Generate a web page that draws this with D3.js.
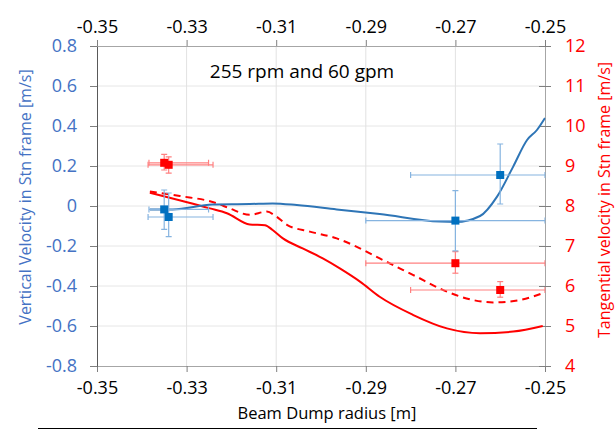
<!DOCTYPE html>
<html>
<head>
<meta charset="utf-8">
<script src="https://cdn.jsdelivr.net/npm/d3@7"></script>
<style>
  body { margin: 0; background: #fff; }
  text { font-family: "Open Sans", "Noto Sans", sans-serif; }
</style>
</head>
<body>
<div id="chart"></div>
<script>
// simulation curves
var simRadius = [-0.3382, -0.3331, -0.3242, -0.3159, -0.3108, -0.3054, -0.2965, -0.2869, -0.2735, -0.2699, -0.2645, -0.2607, -0.2571, -0.2540, -0.2518, -0.2500];
var simVertical = [-0.017, -0.017, 0.008, 0.010, 0.013, 0.005, -0.017, -0.040, -0.078, -0.080, -0.050, 0.047, 0.197, 0.330, 0.380, 0.440];

var solidRadius = [-0.3382, -0.3248, -0.3210, -0.3159, -0.3125, -0.3108, -0.3085, -0.3041, -0.2996, -0.2958, -0.2913, -0.2869, -0.2795, -0.2719, -0.2645, -0.2571, -0.2505];
var solidTangential = [8.33, 7.94, 7.82, 7.54, 7.52, 7.40, 7.19, 6.94, 6.69, 6.44, 6.11, 5.73, 5.28, 4.94, 4.82, 4.86, 5.00];

var dashRadius = [-0.3382, -0.3315, -0.3233, -0.3204, -0.3159, -0.3121, -0.3099, -0.3076, -0.3025, -0.2965, -0.2920, -0.2869, -0.2795, -0.2719, -0.2661, -0.2616, -0.2556, -0.2505];
var dashTangential = [8.36, 8.25, 8.07, 7.94, 7.78, 7.86, 7.73, 7.53, 7.36, 7.19, 6.98, 6.69, 6.28, 5.86, 5.65, 5.59, 5.65, 5.82];

// measurements
var expRadius = [-0.335, -0.334, -0.270, -0.260];
var expRadiusLo = [-0.3384, -0.3386, -0.290, -0.280];
var expRadiusHi = [-0.3251, -0.3241, -0.250, -0.250];
var expVertical = [-0.017, -0.055, -0.073, 0.155];
var expVerticalLo = [-0.117, -0.153, -0.224, 0.010];
var expVerticalHi = [0.080, 0.065, 0.077, 0.310];
var expTangential = [9.08, 9.03, 6.57, 5.90];
var expTangentialLo = [8.90, 8.82, 6.32, 5.72];
var expTangentialHi = [9.29, 9.23, 6.86, 6.11];

var xTicks = [-0.35, -0.33, -0.31, -0.29, -0.27, -0.25];
var leftTicks = [-0.8, -0.6, -0.4, -0.2, 0, 0.2, 0.4, 0.6, 0.8];
var rightTicks = [4, 5, 6, 7, 8, 9, 10, 11, 12];

var chartTitle = "255 rpm and 60 gpm";
var xTitle = "Beam Dump radius [m]";
var leftTitle = "Vertical Velocity in Stn frame [m/s]";
var rightTitle = "Tangential velocity in Stn frame [m/s]";

var margin = {top: 46, right: 70, bottom: 66, left: 97},
    width = 615 - margin.left - margin.right,
    height = 432 - margin.top - margin.bottom;

var svgRoot = d3.select("#chart").append("svg")
    .attr("width", 615)
    .attr("height", 432);

var svg = svgRoot.append("g")
    .attr("transform", "translate(" + margin.left + "," + margin.top + ")");

var x = d3.scaleLinear().domain([-0.35, -0.25]).range([0, width]);
var yL = d3.scaleLinear().domain([-0.8, 0.8]).range([height, 0]);
var yR = d3.scaleLinear().domain([4, 12]).range([height, 0]);

var blue = "#2E75B6", blueMark = "#0070C0", blueErr = "#86B4E0";
var red = "#FF0000", redErr = "#FF8080";

svg.append("defs").append("clipPath").attr("id", "plotclip")
    .append("rect").attr("x", 0).attr("y", 0).attr("width", width + 0.5).attr("height", height);

// gridlines
svg.selectAll(".hgrid").data(leftTicks.slice(1, -1)).enter().append("line")
    .attr("x1", 0).attr("x2", width)
    .attr("y1", d => yL(d)).attr("y2", d => yL(d))
    .attr("stroke", "#E6E6E6");
svg.selectAll(".vgrid").data(xTicks.slice(1, -1)).enter().append("line")
    .attr("x1", d => x(d)).attr("x2", d => x(d))
    .attr("y1", 0).attr("y2", height)
    .attr("stroke", "#E2E2E2");

function fmt(n) { return function(d) { return d === 0 ? "0" : d.toFixed(n); }; }

// axes
var gBottom = svg.append("g").attr("transform", "translate(0," + height + ")")
    .call(d3.axisBottom(x).tickValues(xTicks).tickFormat(fmt(2)).tickSize(6).tickSizeOuter(0));
var gTop = svg.append("g")
    .call(d3.axisTop(x).tickValues(xTicks).tickFormat(fmt(2)).tickSize(6).tickSizeOuter(0));
var gLeft = svg.append("g")
    .call(d3.axisLeft(yL).tickValues(leftTicks).tickFormat(fmt(1)).tickSize(7).tickSizeOuter(0).tickPadding(13));
var gRight = svg.append("g").attr("transform", "translate(" + width + ",0)")
    .call(d3.axisRight(yR).tickValues(rightTicks).tickSize(6).tickSizeOuter(0).tickPadding(14));

[gBottom, gTop].forEach(function(g) {
    g.select(".domain").attr("stroke", "#A6A6A6");
    g.selectAll(".tick line").attr("stroke", "#7F7F7F");
    g.selectAll("text").attr("fill", "#000").style("font-size", "18px");
});
gBottom.selectAll("text").attr("dy", "1.05em");
gTop.selectAll("text").attr("dy", "-0.25em");
gLeft.select(".domain").attr("stroke", "#595959");
gLeft.selectAll(".tick line").attr("stroke", "#7F7F7F");
gLeft.selectAll("text").attr("fill", "#4472C4").style("font-size", "18px");
gRight.select(".domain").attr("stroke", "#A6A6A6");
gRight.selectAll(".tick line").attr("stroke", "#7F7F7F").attr("x1", -6);
gRight.selectAll("text").attr("fill", red).style("font-size", "18px");

var plot = svg.append("g").attr("clip-path", "url(#plotclip)");

// simulation lines
var lineL = d3.line().x(d => x(d[0])).y(d => yL(d[1])).curve(d3.curveMonotoneX);
var lineR = d3.line().x(d => x(d[0])).y(d => yR(d[1])).curve(d3.curveMonotoneX);

plot.append("path").datum(d3.zip(solidRadius, solidTangential))
    .attr("d", lineR).attr("fill", "none").attr("stroke", red).attr("stroke-width", 2);
plot.append("path").datum(d3.zip(dashRadius, dashTangential))
    .attr("d", lineR).attr("fill", "none").attr("stroke", red).attr("stroke-width", 2)
    .attr("stroke-dasharray", "7,5");
plot.append("path").datum(d3.zip(simRadius, simVertical))
    .attr("d", lineL).attr("fill", "none").attr("stroke", blue).attr("stroke-width", 2);

// error bars + markers
function drawPoints(vals, lo, hi, y, errColor, markColor) {
    var pts = expRadius.map(function(r, i) {
        return {x: r, xlo: expRadiusLo[i], xhi: expRadiusHi[i], y: vals[i], ylo: lo[i], yhi: hi[i]};
    });
    var cap = 3;
    var g = plot.append("g").attr("stroke", errColor).attr("stroke-width", 1.2);
    pts.forEach(function(p) {
        g.append("line").attr("x1", x(p.xlo)).attr("x2", x(p.xhi)).attr("y1", y(p.y)).attr("y2", y(p.y));
        g.append("line").attr("x1", x(p.xlo)).attr("x2", x(p.xlo)).attr("y1", y(p.y) - cap).attr("y2", y(p.y) + cap);
        g.append("line").attr("x1", x(p.xhi)).attr("x2", x(p.xhi)).attr("y1", y(p.y) - cap).attr("y2", y(p.y) + cap);
        g.append("line").attr("x1", x(p.x)).attr("x2", x(p.x)).attr("y1", y(p.ylo)).attr("y2", y(p.yhi));
        g.append("line").attr("x1", x(p.x) - cap).attr("x2", x(p.x) + cap).attr("y1", y(p.ylo)).attr("y2", y(p.ylo));
        g.append("line").attr("x1", x(p.x) - cap).attr("x2", x(p.x) + cap).attr("y1", y(p.yhi)).attr("y2", y(p.yhi));
    });
    plot.selectAll(null).data(pts).enter().append("rect")
        .attr("x", d => x(d.x) - 4).attr("y", d => y(d.y) - 4)
        .attr("width", 8).attr("height", 8)
        .attr("fill", markColor);
}
drawPoints(expTangential, expTangentialLo, expTangentialHi, yR, redErr, red);
drawPoints(expVertical, expVerticalLo, expVerticalHi, yL, blueErr, blueMark);

// titles
svgRoot.append("text").attr("x", 302).attr("y", 78).attr("text-anchor", "middle")
    .style("font-size", "19px").attr("fill", "#000").text(chartTitle);
svgRoot.append("text").attr("x", 327).attr("y", 419).attr("text-anchor", "middle")
    .style("font-size", "16.5px").attr("fill", "#000").text(xTitle);
svgRoot.append("text").attr("transform", "translate(31,197) rotate(-90)").attr("text-anchor", "middle")
    .style("font-size", "16px").attr("fill", "#4472C4").text(leftTitle);
svgRoot.append("text").attr("transform", "translate(610,200) rotate(-90)").attr("text-anchor", "middle")
    .style("font-size", "16px").attr("fill", red).text(rightTitle);

svgRoot.append("line").attr("x1", 38).attr("x2", 537).attr("y1", 428.5).attr("y2", 428.5)
    .attr("stroke", "#000").attr("stroke-width", 1);
</script>
</body>
</html>
